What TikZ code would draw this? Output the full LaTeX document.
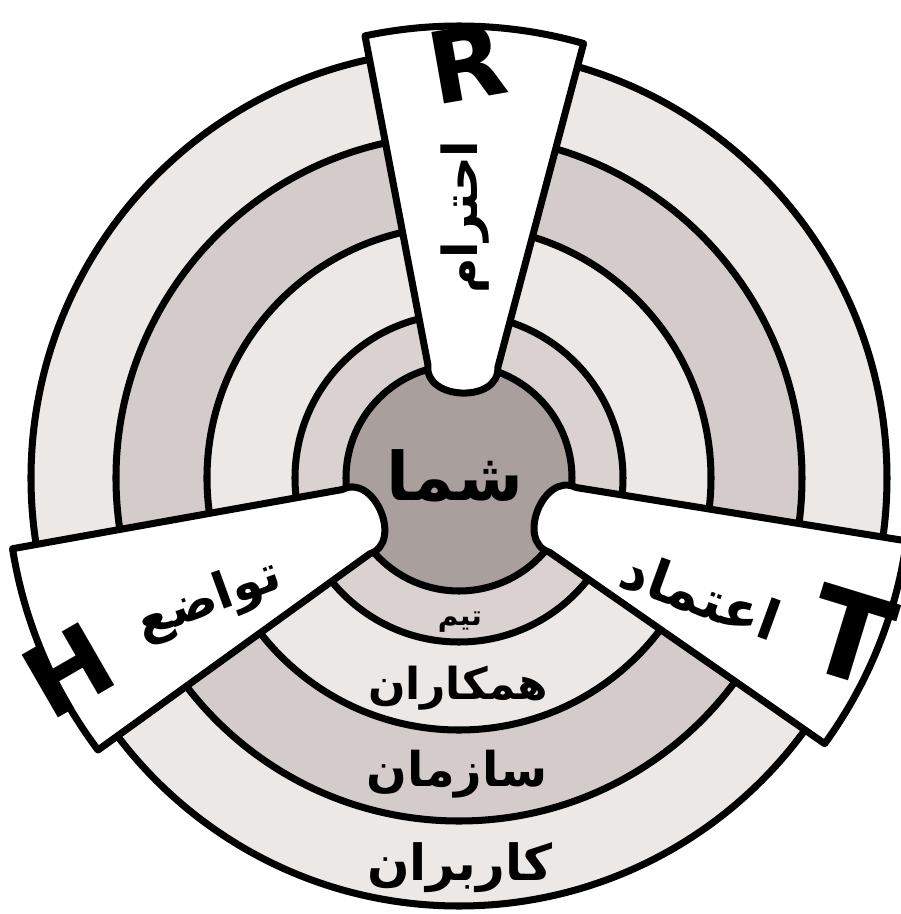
\documentclass[tikz,border=0pt]{standalone}
\usepackage{fontspec}
\usepackage{graphicx}
\TeXXeTstate=1
\newfontfamily\arabicfont[Script=Arabic]{DejaVu Sans}
\newfontfamily\letterfont{DejaVu Sans}
\definecolor{cCenter}{HTML}{A9A09E}
\definecolor{cRingA}{HTML}{D9D2D0}
\definecolor{cRingB}{HTML}{ECE8E6}
\definecolor{cRingC}{HTML}{D4CCCA}
\definecolor{cRingD}{HTML}{ECE8E6}
\newcommand{\fatext}[2]{\resizebox{#1}{!}{\arabicfont\bfseries\beginR #2\endR}}
\newcommand{\bigletter}[2]{\resizebox{!}{#1}{\letterfont\bfseries #2}}
\tikzset{
  ringdisk/.style={draw=black, line width=4pt},
  bladeshape/.style={draw=black, fill=white, line width=4pt, line join=round},
  lbl/.style={inner sep=0pt, text=black},
}
\begin{document}
\begin{tikzpicture}[x=0.02cm, y=0.02cm]
\useasboundingbox (-459,-436) rectangle (442,478);
% rings
\fill[white] (-459,-436) rectangle (442,478);
\draw[ringdisk, fill=cRingD] (0,0) circle[radius=428];
\draw[ringdisk, fill=cRingC] (0,0) circle[radius=343];
\draw[ringdisk, fill=cRingB] (0,0) circle[radius=252];
\draw[ringdisk, fill=cRingA] (0,0) circle[radius=164];
\draw[ringdisk, fill=cCenter] (0,0) circle[radius=113];
% blades
\foreach \ang in {88,-22,203}{
  \begin{scope}[rotate=\ang]
    \draw[bladeshape] (112,35) -- (14:452) arc[start angle=14, end angle=-14, radius=452]
      -- (112,-35) .. controls (76,-38) and (76,38) .. (112,35) -- cycle;
  \end{scope}
}
% center and ring labels
\node[lbl] (you) at (-4,2) {\fatext{2.72cm}{شما}};
\node[lbl] (team) at (1,-144) {\fatext{0.88cm}{تیم}};
\node[lbl] (colleagues) at (-1,-210) {\fatext{3.6cm}{همکاران}};
\node[lbl] (org) at (-2,-296) {\fatext{3.62cm}{سازمان}};
\node[lbl] (users) at (1,-390) {\fatext{3.72cm}{کاربران}};
% blade labels
\node[lbl, rotate=90] (respect) at (6,261) {\fatext{3.06cm}{احترام}};
\node[lbl, rotate=-20] (trust) at (242,-117) {\fatext{3.3cm}{اعتماد}};
\node[lbl, rotate=20] (humility) at (-250,-123) {\fatext{3.0cm}{تواضع}};
% letters
\node[lbl, rotate=10] (letterR) at (8,415) {\bigletter{1.45cm}{R}};
\node[lbl, rotate=-17] (letterT) at (391,-158) {\bigletter{1.75cm}{T}};
\node[lbl, rotate=30] (letterH) at (-391,-192) {\bigletter{1.45cm}{H}};
\end{tikzpicture}
\end{document}
